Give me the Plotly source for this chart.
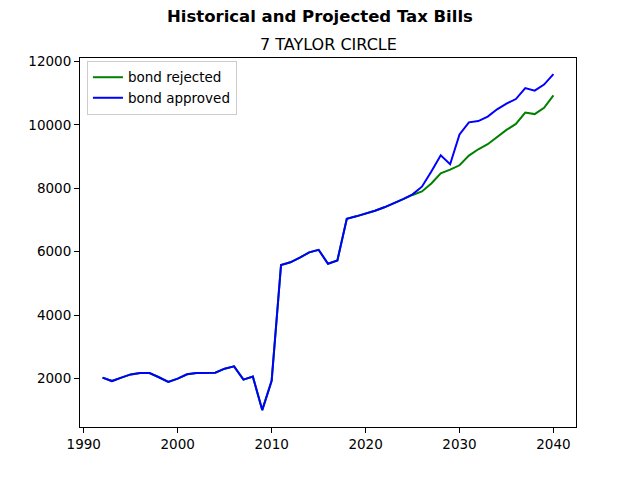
import plotly.graph_objects as go

# Tax bill history and projections for 7 TAYLOR CIRCLE
years = list(range(1992, 2041))

bond_approved = [
    2030, 1920, 2030, 2130, 2175, 2175, 2040, 1890, 1995, 2135,
    2175, 2180, 2185, 2310, 2385, 1965, 2060, 1005, 1930, 5580,
    5665, 5810, 5980, 6060, 5620, 5725, 7040, 7115, 7200, 7290,
    7400, 7520, 7660, 7810, 8050, 8530, 9040, 8760, 9700, 10080,
    10120, 10260, 10490, 10670, 10815, 11160, 11080, 11270, 11600,
]

bond_rejected = [
    2030, 1920, 2030, 2130, 2175, 2175, 2040, 1890, 1995, 2135,
    2175, 2180, 2185, 2310, 2385, 1965, 2060, 1005, 1930, 5580,
    5665, 5810, 5980, 6060, 5620, 5725, 7040, 7115, 7200, 7290,
    7400, 7520, 7660, 7790, 7900, 8150, 8470, 8590, 8725, 9030,
    9230, 9390, 9630, 9840, 10030, 10390, 10340, 10540, 10930,
]

fig = go.Figure()
fig.add_trace(go.Scatter(x=years, y=bond_rejected, mode='lines', name='bond rejected',
                         line=dict(color='#008000', width=2)))
fig.add_trace(go.Scatter(x=years, y=bond_approved, mode='lines', name='bond approved',
                         line=dict(color='#0000ff', width=2)))

axis_style = dict(
    showgrid=False, zeroline=False,
    showline=True, linecolor='black', linewidth=1, mirror=True,
    ticks='outside', ticklen=5, tickcolor='black', tickwidth=1,
    tickfont=dict(size=13.5, color='black'),
)

# page has an 8px body margin, so margins are trimmed to land the axes box at 80..576 x 58..427
fig.update_layout(
    width=640, height=480,
    margin=dict(l=72, r=72, t=50, b=61),
    paper_bgcolor='white', plot_bgcolor='white',
    font=dict(family='DejaVu Sans', color='black'),
    xaxis=dict(range=[1989.6, 2042.4], tickmode='array',
               tickvals=[1990, 2000, 2010, 2020, 2030, 2040], **axis_style),
    yaxis=dict(range=[471, 12109], tickmode='array', tickformat='d',
               tickvals=[2000, 4000, 6000, 8000, 10000, 12000], **axis_style),
    showlegend=True,
    legend=dict(x=0.014, y=0.992, xanchor='left', yanchor='top',
                bordercolor='#cccccc', borderwidth=1, bgcolor='rgba(255,255,255,0.8)',
                font=dict(size=13.5), tracegroupgap=0),
    annotations=[
        dict(text='<b>Historical and Projected Tax Bills</b>', xref='paper', yref='paper',
             x=(320 - 80) / 496, y=(427 - 17) / 369, xanchor='center', yanchor='middle',
             showarrow=False, font=dict(size=16.5)),
        dict(text='7 TAYLOR CIRCLE', xref='paper', yref='paper',
             x=0.5, y=(427 - 44) / 369, xanchor='center', yanchor='middle',
             showarrow=False, font=dict(size=16)),
    ],
)

fig.write_html("out.html")
